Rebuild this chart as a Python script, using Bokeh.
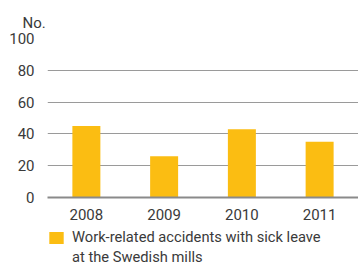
from bokeh.plotting import figure
from bokeh.models import Legend, LegendItem, FixedTicker, Range1d
from bokeh.layouts import column
from bokeh.embed import file_html
from bokeh.resources import INLINE

years = ["2008", "2009", "2010", "2011"]
accidents = [45, 26, 43, 35]
y_ticks = [0, 20, 40, 60, 80, 100]
unit_label = "No."
series_label_lines = ["Work-related accidents with sick leave", "at the Swedish mills"]

FONT = "Roboto"
TXT = "#3a3a3a"
BAR = "#FBBD12"

p = figure(x_range=years, y_range=(0, 100), width=358, height=222,
           output_backend="svg", toolbar_location=None,
           title=unit_label, title_location="above",
           min_border_left=47, min_border_right=0, min_border_top=38,
           min_border_bottom=24)
p.outline_line_color = None
p.background_fill_color = "white"
p.title.align = "left"
p.title.offset = -25
p.title.text_font = FONT
p.title.text_font_size = "15px"
p.title.text_font_style = "normal"
p.title.text_color = TXT
p.title.standoff = 13

r = p.vbar(x=years, top=accidents, width=0.36, color=BAR, line_color=None)

p.xgrid.grid_line_color = None
p.ygrid.grid_line_color = "#9a9a9a"
p.ygrid.grid_line_width = 1
p.ygrid.ticker = FixedTicker(ticks=y_ticks)

p.yaxis.ticker = FixedTicker(ticks=y_ticks)
p.yaxis.axis_line_color = None
p.yaxis.major_tick_line_color = None
p.yaxis.minor_tick_line_color = None
p.yaxis.major_label_standoff = 7
p.yaxis.major_label_text_font = FONT
p.yaxis.major_label_text_font_size = "15px"
p.yaxis.major_label_text_color = TXT

p.xaxis.axis_line_color = "#8a8a8a"
p.xaxis.axis_line_width = 2
p.xaxis.major_tick_line_color = None
p.xaxis.minor_tick_line_color = None
p.xaxis.major_label_standoff = 5
p.xaxis.major_label_text_font = FONT
p.xaxis.major_label_text_font_size = "15px"
p.xaxis.major_label_text_color = TXT

# legend figure (below the chart); its swatch renderers sit outside the view
q = figure(width=358, height=46, output_backend="svg", toolbar_location=None,
           x_range=Range1d(10, 11), y_range=Range1d(10, 11),
           min_border_left=46, min_border_top=5, min_border_right=0,
           min_border_bottom=0)
q.outline_line_color = None
q.axis.visible = False
q.grid.visible = False
lr = q.vbar(x=[0], top=[1], width=0.36, color=BAR, line_color=None)
lr2 = q.vbar(x=[0], top=[1], width=0.36, fill_alpha=0, line_alpha=0)

legend = Legend(items=[LegendItem(label=series_label_lines[0], renderers=[lr], index=0),
                       LegendItem(label=series_label_lines[1], renderers=[lr2], index=0)],
                location="top_left", orientation="vertical",
                padding=0, margin=0, spacing=0, border_line_color=None,
                background_fill_alpha=0,
                glyph_width=18, glyph_height=15, label_height=20,
                label_standoff=7,
                label_text_font=FONT, label_text_font_size="14.7px",
                label_text_color=TXT)
q.add_layout(legend, "center")

open("out.html", "w").write(file_html(column(p, q, spacing=0), INLINE))
